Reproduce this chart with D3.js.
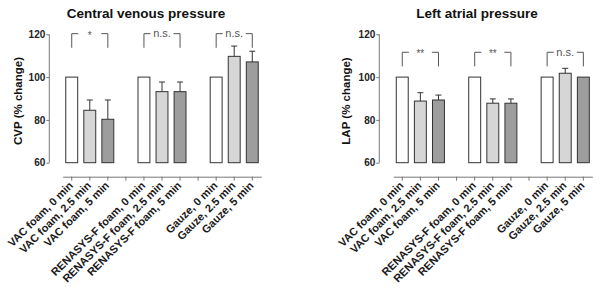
<!DOCTYPE html>
<html>
<head>
<meta charset="utf-8">
<script src="https://cdn.jsdelivr.net/npm/d3@7"></script>
<style>
  body { margin: 0; background: #fff; }
  svg { display: block; font-family: "Liberation Sans", Arial, sans-serif; }
  .axis path, .axis line { stroke: #777; }
  .axis text { fill: #222; font-weight: bold; font-size: 10px; }
  .axis.x text { font-size: 11px; fill: #1a1a1a; }
</style>
</head>
<body>
<svg id="chart" width="600" height="300"></svg>
<script>
// 横軸のスロット（グループ間の空きスロットも含む）
var slots = ["VAC foam, 0 min", "VAC foam, 2.5 min", "VAC foam, 5 min", "gap1",
             "RENASYS-F foam, 0 min", "RENASYS-F foam, 2.5 min", "RENASYS-F foam, 5 min", "gap2",
             "Gauze, 0 min", "Gauze, 2.5 min", "Gauze, 5 min"];
var barNames = ["VAC foam, 0 min", "VAC foam, 2.5 min", "VAC foam, 5 min",
                "RENASYS-F foam, 0 min", "RENASYS-F foam, 2.5 min", "RENASYS-F foam, 5 min",
                "Gauze, 0 min", "Gauze, 2.5 min", "Gauze, 5 min"];
var timeIndex = [0, 1, 2, 0, 1, 2, 0, 1, 2];

// 値（% change）と誤差（上側のみ）
var cvpValues = [100, 84.5, 80.3, 100, 93.2, 93.2, 100, 109.7, 107.1];
var cvpErrors = [0, 4.8, 9.0, 0, 4.5, 4.5, 0, 4.8, 5.0];
var lapValues = [100, 88.8, 89.3, 100, 87.8, 87.8, 100, 101.8, 100];
var lapErrors = [0, 3.9, 2.3, 0, 2.0, 2.0, 0, 2.3, 0];

// 有意差表示
var cvpSignif = ["*", "n.s.", "n.s."];
var lapSignif = ["**", "**", "n.s."];
var cvpBracketLevel = 120.3;
var lapBracketLevel = 111.6;

var yTicks = [60, 80, 100, 120];
var fills = ["#ffffff", "#d6d6d6", "#9d9d9d"];

var svg = d3.select("#chart");

function drawPanel(opt){
    var g = svg.append("g");

    var x = d3.scaleBand()
        .domain(slots)
        .range([opt.x0, opt.x1])
        .paddingInner(0.34)
        .paddingOuter(0.17);

    var y = d3.scaleLinear()
        .domain([60, 120])
        .range([162.7, 34.3]);

    // 縦軸
    g.append("g")
        .attr("class", "axis y")
        .attr("transform", "translate(" + opt.yAxisX + ",0)")
        .call(d3.axisLeft(y).tickValues(yTicks).tickSize(3).tickPadding(1))
        .call(function(s){ s.select(".domain").attr("d", "M0," + y(120) + "V" + y(60)); });

    // 横軸
    var xa = g.append("g")
        .attr("class", "axis x")
        .attr("transform", "translate(0,176.7)")
        .call(d3.axisBottom(x).tickSize(4).tickSizeOuter(0)
            .tickFormat(function(d){ return d.indexOf("gap") === 0 ? "" : d; }));
    xa.selectAll("text")
        .attr("x", 0).attr("y", 0).attr("dy", 0)
        .attr("text-anchor", "end")
        .attr("transform", "translate(2,9.5) rotate(-45)");

    // 棒
    g.selectAll("rect.bar")
        .data(barNames)
        .enter().append("rect")
        .attr("class", "bar")
        .attr("x", function(d){ return x(d); })
        .attr("width", x.bandwidth())
        .attr("y", function(d, i){ return y(opt.values[i]); })
        .attr("height", function(d, i){ return y(60) - y(opt.values[i]); })
        .attr("fill", function(d, i){ return fills[timeIndex[i]]; })
        .attr("stroke", "#333")
        .attr("stroke-width", 1);

    // 誤差棒
    barNames.forEach(function(d, i){
        if(!opt.errors[i]) return;
        var cx = x(d) + x.bandwidth() / 2;
        var top = y(opt.values[i] + opt.errors[i]);
        g.append("path")
            .attr("d", "M" + cx + "," + y(opt.values[i]) + "V" + top + "M" + (cx - 3) + "," + top + "H" + (cx + 3))
            .attr("stroke", "#333")
            .attr("fill", "none");
    });

    // ブラケットと有意差
    opt.signif.forEach(function(s, k){
        var xl = x(barNames[k * 3]) + x.bandwidth() / 2;
        var xr = x(barNames[k * 3 + 2]) + x.bandwidth() / 2;
        var yt = y(opt.bracket);
        var yb = y(opt.bracket - 6.6);
        var mid = (xl + xr) / 2;
        g.append("path")
            .attr("d", "M" + xl + "," + yb + "V" + yt + "H" + (mid - 11.5) +
                       "M" + (mid + 11.5) + "," + yt + "H" + xr + "V" + yb)
            .attr("stroke", "#555")
            .attr("fill", "none");
        g.append("text")
            .attr("x", mid)
            .attr("y", yt + (s.indexOf("*") === 0 ? 5 : 3.5))
            .attr("text-anchor", "middle")
            .attr("fill", "#555")
            .style("font-size", s.indexOf("*") === 0 ? "10px" : "11px")
            .text(s);
    });

    // タイトル
    svg.append("text")
        .attr("x", opt.titleX)
        .attr("y", 18)
        .attr("text-anchor", "middle")
        .style("font-weight", "bold")
        .style("font-size", "13.5px")
        .attr("fill", "#111")
        .text(opt.title);

    // 縦軸ラベル
    svg.append("text")
        .attr("transform", "translate(" + opt.yLabelX + ",101) rotate(-90)")
        .attr("dy", "0.35em")
        .attr("text-anchor", "middle")
        .style("font-weight", "bold")
        .style("font-size", "11.5px")
        .attr("fill", "#111")
        .text(opt.yLabel);
}

drawPanel({
    x0: 62.7, x1: 261.3, yAxisX: 49.3,
    values: cvpValues, errors: cvpErrors,
    signif: cvpSignif, bracket: cvpBracketLevel,
    title: "Central venous pressure", titleX: 146,
    yLabel: "CVP (% change)", yLabelX: 17.5
});

drawPanel({
    x0: 393.2, x1: 592.4, yAxisX: 379.3,
    values: lapValues, errors: lapErrors,
    signif: lapSignif, bracket: lapBracketLevel,
    title: "Left atrial pressure", titleX: 477,
    yLabel: "LAP (% change)", yLabelX: 345.5
});
</script>
</body>
</html>
